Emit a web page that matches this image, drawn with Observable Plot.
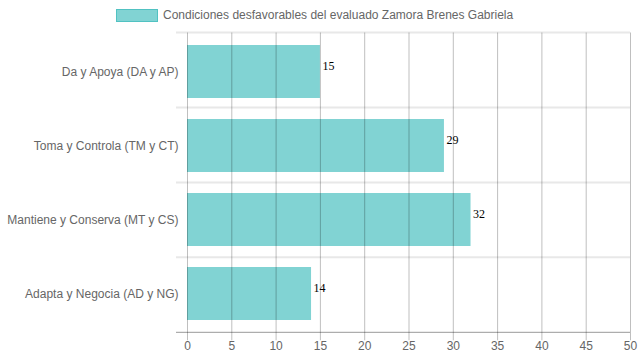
<!DOCTYPE html>
<html><head><meta charset="utf-8">
<script src="https://cdn.jsdelivr.net/npm/d3@7"></script>
<script src="https://cdn.jsdelivr.net/npm/@observablehq/plot@0.6"></script>
<style>
body{margin:0;background:#fff;font-family:"Liberation Sans",Arial,sans-serif;}
#legend{position:relative;height:30px;width:639px;}
#legend .sw{position:absolute;left:116px;top:9px;width:40px;height:11px;background:rgba(75,192,192,0.7);border:1px solid rgba(75,192,192,0.9);}
#legend .tx{position:absolute;left:163px;top:7px;font-size:12px;color:#666;line-height:16px;white-space:nowrap;}
</style></head>
<body>
<div id="legend"><div class="sw"></div><div class="tx" id="ltext"></div></div>
<div id="chart"></div>
<script>
const seriesLabel = "Condiciones desfavorables del evaluado Zamora Brenes Gabriela";
const categories = ["Da y Apoya (DA y AP)", "Toma y Controla (TM y CT)", "Mantiene y Conserva (MT y CS)", "Adapta y Negocia (AD y NG)"];
const values = [15, 29, 32, 14];
const xTicks = [0, 5, 10, 15, 20, 25, 30, 35, 40, 45, 50];

document.getElementById("ltext").textContent = seriesLabel;
const data = categories.map((c, i) => ({cat: c, value: values[i]}));

const plot = Plot.plot({
  width: 639,
  height: 330,
  marginTop: 2.5,
  marginBottom: 27.7,
  marginLeft: 187,
  marginRight: 9,
  style: {fontFamily: "'Liberation Sans', Arial, sans-serif", fontSize: "12px", color: "#666", background: "#fff"},
  x: {domain: [0, 50], ticks: xTicks, tickSize: 0, tickPadding: 9, label: null},
  y: {domain: categories, paddingInner: 0.28, paddingOuter: 0.14, tickSize: 0, tickPadding: 9, label: null},
  marks: [
    Plot.barX(data, {x: "value", y: "cat", fill: "rgba(75,192,192,0.7)"}),
    Plot.ruleX(xTicks, {stroke: "#000", strokeOpacity: 0.25, insetBottom: -8}),
    Plot.text(data, {x: "value", y: "cat", text: d => String(d.value), textAnchor: "start", dx: 2, dy: -6, fill: "#000", fontFamily: "'Liberation Serif', 'Times New Roman', serif", fontSize: 12})
  ]
});
document.getElementById("chart").appendChild(plot);

const ys = plot.scale("y");
const yf = d3.scaleBand().domain(ys.domain).range(ys.range).paddingInner(ys.paddingInner ?? 0.28).paddingOuter(ys.paddingOuter ?? 0.14);
const step = yf.step(), bw = yf.bandwidth();
const bounds = categories.map(c => yf(c) - (step - bw) / 2);
bounds.push(yf(categories[categories.length - 1]) + bw + (step - bw) / 2);
const svg = d3.select(plot);
const g = svg.insert("g", ":first-child");
bounds.forEach((b, i) => {
  const last = i === bounds.length - 1;
  g.append("line").attr("x1", 176).attr("x2", 630).attr("y1", b).attr("y2", b)
    .attr("stroke", last ? "#999" : "#e8e8e8").attr("stroke-width", last ? 1 : 2);
});
</script>
</body></html>
